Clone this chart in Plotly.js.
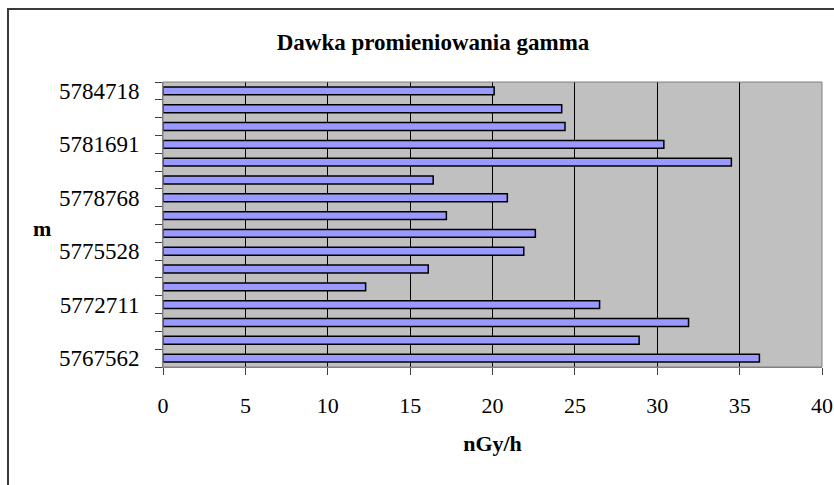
<!DOCTYPE html>
<html>
<head>
<meta charset="utf-8">
<script src="https://cdn.plot.ly/plotly-3.0.1.min.js"></script>
<style>
  html, body { margin: 0; padding: 0; background: #ffffff; overflow: hidden; }
  #wrap { position: relative; width: 834px; height: 485px; overflow: hidden; }
  #chart { position: absolute; left: 0; top: 0; width: 834px; height: 485px; }
  #frame { position: absolute; left: 7px; top: 8px; width: 900px; height: 600px;
           border: 2px solid #3a3a3a; pointer-events: none; box-sizing: border-box; z-index: 10; }
</style>
</head>
<body>
<div id="wrap">
  <div id="chart"></div>
  <div id="frame"></div>
</div>
<script>
// Gamma dose values (nGy/h), bottom bar first
const doseValues = [36.2, 28.9, 31.9, 26.5, 12.3, 16.1, 21.9, 22.6, 17.2, 20.9, 16.4, 34.5, 30.4, 24.4, 24.2, 20.1];
// bar positions (category index, bottom = 0)
const barIndex = [0, 1, 2, 3, 4, 5, 6, 7, 8, 9, 10, 11, 12, 13, 14, 15];
// labelled categories (northing, m)
const labelIndex = [0, 3, 6, 9, 12, 15];
const labelText = ["5767562", "5772711", "5775528", "5778768", "5781691", "5784718"];
const xTicks = [0, 5, 10, 15, 20, 25, 30, 35, 40];

const W = 834, H = 485;
const M = { l: 163, r: 12, t: 82, b: 118 };
const pw = W - M.l - M.r, ph = H - M.t - M.b;
const px2x = p => (p - M.l) / pw;
const py2y = p => (H - M.b - p) / ph;

const serif = "Liberation Serif, Times New Roman, serif";

const trace = {
  type: "bar",
  orientation: "h",
  x: doseValues,
  y: barIndex,
  marker: { color: "#9999FF", line: { color: "#000000", width: 1.5 } },
  hoverinfo: "x"
};

const layout = {
  width: W, height: H,
  margin: M,
  paper_bgcolor: "#ffffff",
  plot_bgcolor: "#C0C0C0",
  showlegend: false,
  bargap: 0.56,
  font: { family: serif, color: "#000000" },
  title: {
    text: "<b>Dawka promieniowania gamma</b>",
    font: { family: serif, size: 23, color: "#000000" },
    x: 433 / W, xanchor: "center", y: 1 - 42 / H, yanchor: "middle",
    xref: "container"
  },
  xaxis: {
    range: [0, 40],
    tickvals: xTicks,
    ticktext: xTicks.map(String),
    ticks: "outside", ticklen: 7, tickcolor: "#404040", tickwidth: 1,
    ticklabelstandoff: 12,
    tickfont: { family: serif, size: 22, color: "#000000" },
    showgrid: true, gridcolor: "#000000", gridwidth: 1,
    zeroline: false,
    showline: true, linecolor: "#808080", linewidth: 1,
    title: { text: "<b>nGy/h</b>", font: { family: serif, size: 22, color: "#000000" }, standoff: 18 },
    fixedrange: true
  },
  yaxis: {
    range: [-0.5, 15.5],
    tickvals: labelIndex,
    ticktext: labelText,
    ticks: "",
    ticklabelstandoff: 18,
    tickfont: { family: serif, size: 23, color: "#000000" },
    minor: { tick0: -0.5, dtick: 1, ticks: "outside", ticklen: 7, tickcolor: "#404040", tickwidth: 1, showgrid: false },
    showgrid: false,
    zeroline: false,
    showline: true, linecolor: "#808080", linewidth: 1,
    fixedrange: true
  },
  annotations: [{
    text: "<b>m</b>",
    xref: "paper", yref: "paper",
    x: px2x(42), y: py2y(228),
    xanchor: "center", yanchor: "middle",
    showarrow: false,
    font: { family: serif, size: 22, color: "#000000" }
  }],
  shapes: [
    { type: "rect", xref: "paper", yref: "paper", x0: 0, x1: 1, y0: 0, y1: 1,
      line: { color: "#808080", width: 1 }, fillcolor: "rgba(0,0,0,0)", layer: "above" }
  ]
};

Plotly.newPlot("chart", [trace], layout, { displayModeBar: false, staticPlot: true });
</script>
</body>
</html>
